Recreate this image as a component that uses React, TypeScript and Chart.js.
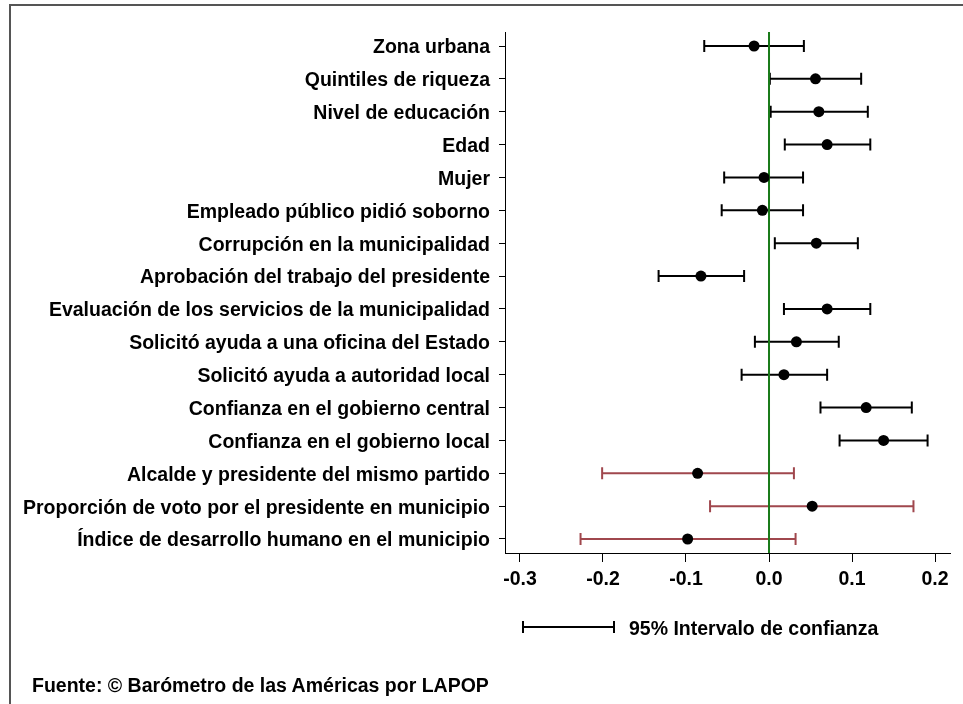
import React, { useEffect, useRef } from "react";
import { Chart, registerables } from "chart.js";

Chart.register(...registerables);

const labels = [
  "Zona urbana",
  "Quintiles de riqueza",
  "Nivel de educación",
  "Edad",
  "Mujer",
  "Empleado público pidió soborno",
  "Corrupción en la municipalidad",
  "Aprobación del trabajo del presidente",
  "Evaluación de los servicios de la municipalidad",
  "Solicitó ayuda a una oficina del Estado",
  "Solicitó ayuda a autoridad local",
  "Confianza en el gobierno central",
  "Confianza en el gobierno local",
  "Alcalde y presidente del mismo partido",
  "Proporción de voto por el presidente en municipio",
  "Índice de desarrollo humano en el municipio",
];

const estimates = [-0.018, 0.056, 0.06, 0.07, -0.006, -0.008, 0.057, -0.082, 0.07, 0.033, 0.018, 0.117, 0.138, -0.086, 0.052, -0.098];
const lowerBounds = [-0.078, 0.001, 0.002, 0.019, -0.054, -0.057, 0.007, -0.133, 0.018, -0.017, -0.033, 0.062, 0.085, -0.201, -0.071, -0.227];
const upperBounds = [0.042, 0.111, 0.119, 0.122, 0.041, 0.041, 0.107, -0.03, 0.122, 0.084, 0.07, 0.172, 0.191, 0.03, 0.174, 0.032];
// level 0 = individual-level (black), 1 = municipal-level (red)
const levels = [0, 0, 0, 0, 0, 0, 0, 0, 0, 0, 0, 0, 0, 1, 1, 1];

const xTicks = [-0.3, -0.2, -0.1, 0.0, 0.1, 0.2];

const FONT = "'Liberation Sans', Arial, Helvetica, sans-serif";
const BLACK = "#000000";
const RED = "#a0474d";
const GREEN = "#1a7a1a";

const errorBarPlugin = {
  id: "errorBars",
  beforeDatasetsDraw(chart: any) {
    const { ctx, scales, chartArea } = chart;
    const xs = scales.x;
    const ys = scales.y;
    ctx.save();
    ctx.lineWidth = 2;
    ctx.lineCap = "butt";
    for (let i = 0; i < labels.length; i++) {
      const y = ys.getPixelForValue(i);
      const x1 = xs.getPixelForValue(lowerBounds[i]);
      const x2 = xs.getPixelForValue(upperBounds[i]);
      ctx.strokeStyle = levels[i] === 1 ? RED : BLACK;
      ctx.beginPath();
      ctx.moveTo(x1, y);
      ctx.lineTo(x2, y);
      ctx.moveTo(x1, y - 6);
      ctx.lineTo(x1, y + 6);
      ctx.moveTo(x2, y - 6);
      ctx.lineTo(x2, y + 6);
      ctx.stroke();
    }
    // zero reference line
    const x0 = xs.getPixelForValue(0);
    ctx.strokeStyle = GREEN;
    ctx.lineWidth = 2;
    ctx.beginPath();
    ctx.moveTo(x0, chartArea.top);
    ctx.lineTo(x0, chartArea.bottom);
    ctx.stroke();
    ctx.restore();
  },
  afterDraw(chart: any) {
    const { ctx } = chart;
    // legend sample line for the confidence interval
    ctx.save();
    ctx.strokeStyle = BLACK;
    ctx.lineWidth = 2;
    const y = 627;
    ctx.beginPath();
    ctx.moveTo(523, y);
    ctx.lineTo(614, y);
    ctx.moveTo(523, y - 6);
    ctx.lineTo(523, y + 6);
    ctx.moveTo(614, y - 6);
    ctx.lineTo(614, y + 6);
    ctx.stroke();
    ctx.restore();
  },
};

export default function App() {
  const canvasRef = useRef<HTMLCanvasElement | null>(null);

  useEffect(() => {
    if (!canvasRef.current) return;
    const chart = new Chart(canvasRef.current, {
      type: "scatter",
      data: {
        datasets: [
          {
            data: estimates.map((v, i) => ({ x: v, y: i })),
            backgroundColor: BLACK,
            borderColor: BLACK,
            pointRadius: 5.5,
            pointHoverRadius: 5.5,
            borderWidth: 0,
          },
        ],
      },
      options: {
        responsive: false,
        animation: false,
        events: [],
        layout: { padding: { left: 0, right: 13, top: 32, bottom: 0 } },
        plugins: {
          legend: { display: false },
          tooltip: { enabled: false },
          title: { display: false },
        },
        scales: {
          x: {
            type: "linear",
            position: "bottom",
            min: -0.318,
            max: 0.218,
            afterBuildTicks: (scale: any) => {
              scale.ticks = xTicks.map((v) => ({ value: v }));
            },
            afterFit: (scale: any) => {
              scale.height = 151;
            },
            grid: {
              drawOnChartArea: false,
              drawTicks: true,
              tickLength: 9,
              color: BLACK,
              lineWidth: 1,
            },
            border: { display: true, color: BLACK, width: 1 },
            ticks: {
              color: BLACK,
              padding: 6,
              maxRotation: 0,
              font: { family: FONT, size: 19.5, weight: "bold" },
              callback: (v: any) => Number(v).toFixed(1),
            },
          },
          y: {
            type: "linear",
            position: "left",
            reverse: true,
            min: -0.426,
            max: 15.426,
            afterBuildTicks: (scale: any) => {
              scale.ticks = labels.map((_, i) => ({ value: i }));
            },
            afterFit: (scale: any) => {
              scale.width = 505;
            },
            grid: {
              drawOnChartArea: false,
              drawTicks: true,
              tickLength: 6,
              color: BLACK,
              lineWidth: 1,
            },
            border: { display: true, color: BLACK, width: 1 },
            ticks: {
              color: BLACK,
              padding: 9,
              labelOffset: 2,
              autoSkip: false,
              font: { family: FONT, size: 19.5, weight: "bold" },
              callback: (v: any) => labels[Math.round(Number(v))] ?? "",
            },
          },
        },
      },
      plugins: [errorBarPlugin],
    });
    return () => chart.destroy();
  }, []);

  const textStyle: React.CSSProperties = {
    position: "absolute",
    fontFamily: FONT,
    fontWeight: "bold",
    fontSize: "19.5px",
    lineHeight: "24px",
    color: "#000",
    whiteSpace: "nowrap",
  };

  return (
    <div
      style={{
        position: "fixed",
        left: 0,
        top: 0,
        width: 963,
        height: 704,
        overflow: "hidden",
        background: "#fff",
      }}
    >
      <canvas ref={canvasRef} width={963} height={704} style={{ position: "absolute", left: 0, top: 0 }} />
      <div
        style={{
          position: "absolute",
          left: 9,
          top: 4,
          width: 1200,
          height: 1200,
          borderLeft: "2px solid #555",
          borderTop: "2px solid #555",
          pointerEvents: "none",
        }}
      />
      <div style={{ ...textStyle, left: 629, top: 616 }}>95% Intervalo de confianza</div>
      <div style={{ ...textStyle, left: 32, top: 673 }}>Fuente: © Barómetro de las Américas por LAPOP</div>
    </div>
  );
}
